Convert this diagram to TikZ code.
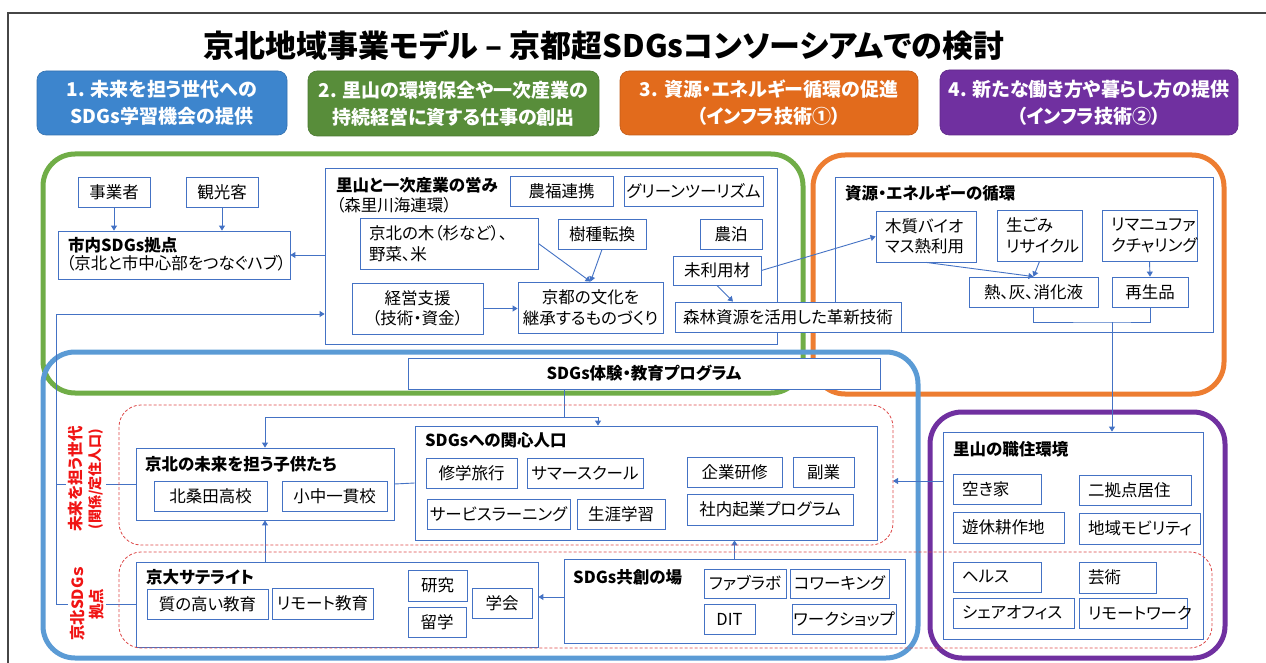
\documentclass[tikz,border=0pt]{standalone}
\usepackage{fontspec}
\setmainfont[RawFeature=+palt]{Noto Sans CJK JP}
\usetikzlibrary{arrows.meta}
\definecolor{bline}{RGB}{68,114,196}
\definecolor{catA}{RGB}{61,133,205}
\definecolor{catB}{RGB}{88,141,58}
\definecolor{catC}{RGB}{226,107,28}
\definecolor{catD}{RGB}{112,48,160}
\definecolor{conG}{RGB}{112,173,71}
\definecolor{conO}{RGB}{237,125,49}
\definecolor{conB}{RGB}{91,155,213}
\definecolor{conP}{RGB}{112,48,160}
\definecolor{dred}{RGB}{220,70,70}
\definecolor{tred}{RGB}{240,20,20}
\definecolor{frm}{RGB}{70,70,70}
\begin{document}
\begin{tikzpicture}[x=1pt,y=-1pt,
 catbox/.style={rounded corners=9pt, fill=#1, draw=#1!85!black, line width=0.6pt, text=white, font=\bfseries\fontsize{19}{27}\selectfont, align=center, inner sep=0pt},
 cont/.style={draw=#1, line width=5pt, rounded corners=32pt},
 grp/.style={draw=bline, line width=0.8pt, fill=white, inner sep=0pt},
 box/.style={draw=bline, line width=0.8pt, fill=white, inner sep=0pt, font=\fontsize{16.5}{20.5}\selectfont, align=center},
 lbox/.style={box, align=left, text width=#1, inner xsep=9pt},
 ttl/.style={font=\bfseries\fontsize{16.5}{20}\selectfont, inner sep=0pt, anchor=west},
 sub/.style={font=\fontsize{16.5}{20}\selectfont, inner sep=0pt, anchor=west},
 con/.style={draw=bline, line width=0.9pt},
 arr/.style={con, -{Triangle[width=6pt,length=5pt]}},
 rdash/.style={draw=dred, line width=0.8pt, dash pattern=on 3pt off 2pt, rounded corners=22pt},
 rtxt/.style={text=tred, fill=white, rotate=90, align=center, inner sep=2pt, font=\bfseries\fontsize{15.5}{19}\selectfont}
]
\path[use as bounding box] (0,0) rectangle (1266,663);
\clip (0,0) rectangle (1266,663);
\draw[frm, line width=1.3pt] (8,13) rectangle (1300,700);

% title and categories
\node[font=\bfseries\fontsize{31}{36}\selectfont, inner sep=0pt] (title) at (604,45) {京北地域事業モデル – 京都超SDGsコンソーシアムでの検討};
\node[catbox=catA, minimum width=250pt, minimum height=64pt] (cat1) at (162,103) {1. 未来を担う世代への\\SDGs学習機会の提供};
\node[catbox=catB, minimum width=291pt, minimum height=65pt] (cat2) at (453.5,103.5) {2. 里山の環境保全や一次産業の\\持続経営に資する仕事の創出};
\node[catbox=catC, minimum width=298pt, minimum height=64pt] (cat3) at (769,103) {3. 資源・エネルギー循環の促進\\（インフラ技術①）};
\node[catbox=catD, minimum width=298pt, minimum height=65pt] (cat4) at (1089,102.5) {4. 新たな働き方や暮らし方の提供\\（インフラ技術②）};

% thick containers
\draw[cont=conG] (43,154) rectangle (803,393);
\draw[cont=conO] (813,155) rectangle (1224,394);
\draw[cont=conB] (43,352) rectangle (918,658);
\draw[cont=conP] (930,412) rectangle (1225,658);

% group boxes
\node[grp, minimum width=232pt, minimum height=48pt] (shinai) at (174,255) {};
\node[ttl] (shinaiT) at (68,245) {市内SDGs拠点};
\node[sub] (shinaiS) at (66,263) {（京北と市中心部をつなぐハブ）};
\node[grp, minimum width=452pt, minimum height=176pt] (satoyama) at (551,256) {};
\node[ttl] (satoyamaT) at (336,185) {里山と一次産業の営み};
\node[sub] (satoyamaS) at (336,205) {（森里川海連環）};
\node[grp, minimum width=378pt, minimum height=155pt] (shigen) at (1024,254.5) {};
\node[ttl] (shigenT) at (845,193) {資源・エネルギーの循環};
\node[grp, minimum width=258pt, minimum height=72pt] (kodomo) at (265,484) {};
\node[ttl] (kodomoT) at (145,464) {京北の未来を担う子供たち};
\node[grp, minimum width=462pt, minimum height=114pt] (kanshin) at (646,483) {};
\node[ttl] (kanshinT) at (425,440) {SDGsへの関心人口};
\node[grp, minimum width=402pt, minimum height=85pt] (kyodai) at (337,604.5) {};
\node[ttl] (kyodaiT) at (146,577) {京大サテライト};
\node[grp, minimum width=341pt, minimum height=84pt] (kyoso) at (734.5,601) {};
\node[ttl] (kyosoT) at (573,577) {SDGs共創の場};
\node[grp, minimum width=260pt, minimum height=207pt] (shokuju) at (1073,535.5) {};
\node[ttl] (shokujuT) at (953,449) {里山の職住環境};

% connectors
\coordinate (lt) at (56,314);
\draw[arr] (lt) -- (lt -| satoyama.west);
\draw[con] (lt) -- (lt |- kyodai.west) -- (kyodai.west);
\draw[con] (lt |- kodomo.west) -- (kodomo.west);
\node[box, minimum width=72pt, minimum height=30pt] (jigyosha) at (114,192) {事業者};
\node[box, minimum width=72pt, minimum height=30pt] (kanko) at (222,192) {観光客};
\draw[arr] (jigyosha.south) -- (jigyosha.south |- shinai.north);
\draw[arr] (kanko.south) -- (kanko.south |- shinai.north);
\draw[arr] (satoyama.west |- shinai.east) -- (shinai.east);

% small boxes: satoyama
\node[box, minimum width=103pt, minimum height=30pt] (noufuku) at (561.5,191) {農福連携};
\node[box, minimum width=139pt, minimum height=30pt] (gt) at (693.5,191) {グリーンツーリズム};
\node[lbox=160pt, minimum height=51pt] (kyohokuki) at (449,243.5) {京北の木（杉など）、\\野菜、米};
\node[box, minimum width=88pt, minimum height=30pt] (jushu) at (602,234) {樹種転換};
\node[box, minimum width=62pt, minimum height=30pt] (nouhaku) at (731,234) {農泊};
\node[box, minimum width=88pt, minimum height=29pt] (miriyou) at (717,270.5) {未利用材};
\node[box, minimum width=131pt, minimum height=51pt] (keiei) at (417.5,308.5) {経営支援\\（技術・資金）};
\node[box, minimum width=145pt, minimum height=51pt] (bunka) at (590.5,307.5) {京都の文化を\\継承するものづくり};
\draw[arr] (kyohokuki.east) -- (bunka.north);
\draw[arr] (jushu.south) -- (bunka.north);
\draw[arr] (keiei.east) -- (keiei.east -| bunka.west);

% shigen
\node[lbox=82pt, minimum height=51pt] (mokushitsu) at (926,236.5) {木質バイオ\\マス熱利用};
\node[lbox=67pt, minimum height=51pt] (namagomi) at (1039.5,235.5) {生ごみ\\リサイクル};
\node[lbox=77pt, minimum height=51pt] (remanu) at (1149.5,235.5) {リマニュファ\\クチャリング};
\node[box, minimum width=129pt, minimum height=30pt] (netsu) at (1033.5,292) {熱、灰、消化液};
\node[box, minimum width=76pt, minimum height=30pt] (saisei) at (1150,292) {再生品};
\node[box, minimum width=226pt, minimum height=30pt] (shinrin) at (788,317) {森林資源を活用した革新技術};
\draw[arr] (miriyou.south) -- ([xshift=-55pt]shinrin.north);
\draw[arr] (miriyou.east) -- (mokushitsu.west);
\draw[arr] (mokushitsu.south) -- (netsu.north);
\draw[arr] (namagomi.south) -- (netsu.north);
\draw[arr] (remanu.south) -- (saisei.north);
\coordinate (br) at (1112,322);
\draw[con] (netsu.south) |- (br) -| (saisei.south);
\draw[arr] (br) -- (br |- shokuju.north);

% program and blue area
\node[box, font=\bfseries\fontsize{16.5}{20}\selectfont, minimum width=472pt, minimum height=31pt] (program) at (644,373.5) {SDGs体験・教育プログラム};
\coordinate (pj) at (564,417);
\coordinate (hl) at (265,417);
\coordinate (hr) at (598,417);
\draw[con] (pj |- program.south) -- (pj);
\draw[arr] (hl) -- (hl |- kodomo.north);
\draw[arr] (hl) -- (hr) -- (hr |- kanshin.north);
\draw[con] (kodomo.east) -- (kanshin.west);
\coordinate (kt) at (893,481);
\draw[arr] (kt -| shokuju.west) -- (kt);
\draw[arr] (kyodai.north -| kodomo.south) -- (kodomo.south);
\draw[arr] ([yshift=4pt]kyoso.west) -- ([yshift=4pt]kyoso.west -| kyodai.east);
\draw[arr] (kyoso.north) -- (kyoso.north |- kanshin.south);

\node[box, minimum width=113pt, minimum height=30pt] (kitakuwa) at (210.5,496) {北桑田高校};
\node[box, minimum width=105pt, minimum height=30pt] (shochu) at (334.5,496) {小中一貫校};

\node[box, minimum width=91pt, minimum height=30pt] (shugaku) at (471.5,473) {修学旅行};
\node[box, minimum width=116pt, minimum height=30pt] (summer) at (585,473) {サマースクール};
\node[box, minimum width=143pt, minimum height=30pt] (service) at (498.5,514) {サービスラーニング};
\node[box, minimum width=88pt, minimum height=30pt] (shougai) at (621,514) {生涯学習};
\node[box, minimum width=95pt, minimum height=30pt] (kigyo) at (734.5,472) {企業研修};
\node[box, minimum width=61pt, minimum height=30pt] (fukugyo) at (823.5,472) {副業};
\node[box, minimum width=166pt, minimum height=31pt] (shanai) at (770,509.5) {社内起業プログラム};

\node[box, minimum width=121pt, minimum height=30pt] (shitsu) at (207.5,604) {質の高い教育};
\node[box, minimum width=101pt, minimum height=31pt] (remote) at (322.5,603.5) {リモート教育};
\node[box, minimum width=59pt, minimum height=31pt] (kenkyu) at (437.5,585.5) {研究};
\node[box, minimum width=58pt, minimum height=30pt] (ryugaku) at (437,622) {留学};
\node[box, minimum width=60pt, minimum height=30pt] (gakkai) at (502,603) {学会};

\node[box, minimum width=82pt, minimum height=29pt] (fablab) at (745,583.5) {ファブラボ};
\node[box, minimum width=99pt, minimum height=29pt] (cowork) at (839.5,583.5) {コワーキング};
\node[box, minimum width=51pt, minimum height=30pt] (dit) at (729.5,619) {DIT};
\node[box, minimum width=104pt, minimum height=30pt] (workshop) at (844,619) {ワークショップ};

% purple area
\node[lbox=70pt, minimum height=30pt] (akiya) at (997,489) {空き家};
\node[lbox=94pt, minimum height=30pt] (nikyoten) at (1135,490) {二拠点居住};
\node[lbox=93pt, minimum height=31pt] (yukyu) at (1008.5,527.5) {遊休耕作地};
\node[lbox=103pt, minimum height=31pt] (mobility) at (1139.5,528.5) {地域モビリティ};
\node[lbox=70pt, minimum height=30pt] (health) at (997,577) {ヘルス};
\node[lbox=59pt, minimum height=31pt] (geijutsu) at (1117.5,577.5) {芸術};
\node[lbox=103pt, minimum height=30pt] (share) at (1013.5,613) {シェアオフィス};
\node[lbox=90pt, minimum height=30pt] (remotework) at (1133,613) {リモートワーク};

% red dashed groups
\draw[rdash] (119,405) rectangle (893,545);
\draw[rdash] (119,552) rectangle (1212,648);

% red labels
\node[rtxt] (redA) at (86,479) {未来を担う世代\\{\fontsize{14}{19}\selectfont (関係/定住人口)}};
\node[rtxt] (redB) at (87,604) {京北SDGｓ\\拠点};
\end{tikzpicture}
\end{document}
